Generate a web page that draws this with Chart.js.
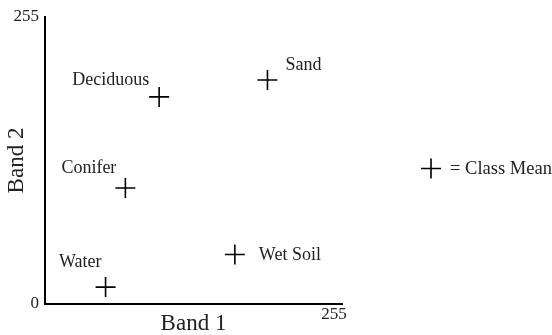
<!DOCTYPE html>
<html>
<head>
<meta charset="utf-8">
<script src="https://cdn.jsdelivr.net/npm/chart.js@4/dist/chart.umd.min.js"></script>
<style>
  html, body { margin: 0; padding: 0; background: #fff; }
  #c { display: block; }
</style>
</head>
<body>
<canvas id="c" width="552" height="335"></canvas>
<script>
// ---- data ----
const classNames = ['Water', 'Conifer', 'Deciduous', 'Sand', 'Wet Soil'];
const band1Means = [52, 69, 98, 191, 163];
const band2Means = [15, 103, 184, 199, 44];
const xTickValues = [255];
const yTickValues = [0, 255];
const axisMin = 0;
const axisMax = 255;
const xTitle = 'Band 1';
const yTitle = 'Band 2';
const legendText = '= Class Mean';

// ---- label placement (style, not data) ----
const labelAlign = ['right', 'right', 'right', 'left', 'left'];
const labelDx = [-4, -9, -10, 18, 24];
const labelDy = [-25, -20, -17, -15, 1];

const FONT = '"Liberation Serif", "Times New Roman", serif';
const TEXT = '#222';

const points = band1Means.map((v, i) => ({ x: v, y: band2Means[i] }));

const labelPlugin = {
  id: 'classLabels',
  afterDatasetsDraw(chart) {
    const ctx = chart.ctx;
    const meta = chart.getDatasetMeta(0);
    ctx.save();
    ctx.font = '18px ' + FONT;
    ctx.fillStyle = TEXT;
    ctx.textBaseline = 'middle';
    meta.data.forEach((el, i) => {
      ctx.textAlign = labelAlign[i];
      ctx.fillText(classNames[i], el.x + labelDx[i], el.y + labelDy[i]);
    });
    // legend key
    const ca = chart.chartArea;
    const lx = ca.right + 89;
    const ly = (ca.top + ca.bottom) / 2 + 8;
    ctx.strokeStyle = '#000';
    ctx.lineWidth = 1.6;
    Chart.helpers.drawPoint(ctx, { pointStyle: 'cross', radius: 10, borderWidth: 1.6, rotation: 0 }, lx, ly);
    ctx.textAlign = 'left';
    ctx.font = '18.5px ' + FONT;
    ctx.fillText(legendText, lx + 19, ly + 1);
    ctx.restore();
  }
};

new Chart(document.getElementById('c'), {
  type: 'scatter',
  data: {
    datasets: [{
      label: 'Class Mean',
      data: points,
      pointStyle: 'cross',
      pointRadius: 10,
      pointHoverRadius: 10,
      borderColor: '#000',
      backgroundColor: '#000',
      pointBorderWidth: 1.6,
      showLine: false
    }]
  },
  options: {
    responsive: false,
    animation: false,
    devicePixelRatio: 1,
    layout: { padding: { left: 0, right: 210, top: 17, bottom: 0 } },
    plugins: { legend: { display: false }, tooltip: { enabled: false } },
    scales: {
      x: {
        type: 'linear',
        min: axisMin, max: axisMax,
        afterBuildTicks: s => { s.ticks = xTickValues.map(v => ({ value: v })); },
        afterFit: s => { s.height = 31; },
        grid: { display: false, drawTicks: false },
        border: { display: true, color: '#000', width: 2 },
        ticks: { color: TEXT, font: { family: FONT, size: 17 }, padding: 0, labelOffset: -8, maxRotation: 0 },
        title: { display: true, text: xTitle, color: TEXT, font: { family: FONT, size: 23 }, padding: { top: 0, bottom: -3 } }
      },
      y: {
        type: 'linear',
        min: axisMin, max: axisMax,
        afterBuildTicks: s => { s.ticks = yTickValues.map(v => ({ value: v })); },
        afterFit: s => { s.width = 45; },
        grid: { display: false, drawTicks: false },
        border: { display: true, color: '#000', width: 2 },
        ticks: { color: TEXT, font: { family: FONT, size: 17 }, padding: 6 },
        title: { display: true, text: yTitle, color: TEXT, font: { family: FONT, size: 23 }, padding: { top: 3, bottom: 0 } }
      }
    }
  },
  plugins: [labelPlugin]
});
</script>
</body>
</html>
